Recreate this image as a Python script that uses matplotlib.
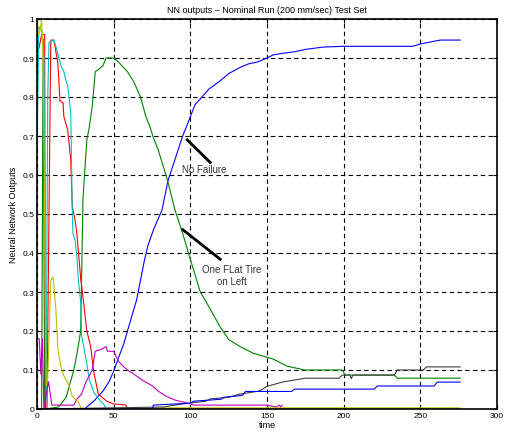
import matplotlib
matplotlib.use("Agg")
import matplotlib.pyplot as plt

plt.rcParams['font.family'] = ['Liberation Sans', 'DejaVu Sans']

# ---- data ----
blue1_x = [0, 31, 34, 37, 43, 47, 50, 53, 56.5, 59, 62, 65, 67, 70, 72.4, 76, 81.5, 85.4, 90, 95, 99.8,
           103, 107.6, 112, 119, 125, 132, 138, 144, 150, 154, 160, 168, 175, 186.5, 200, 225, 245, 250, 263, 276]
blue1_y = [0, 0, 0.01, 0.02, 0.046, 0.07, 0.097, 0.13, 0.166, 0.2, 0.24, 0.28, 0.32, 0.38, 0.42, 0.46, 0.51,
           0.585, 0.64, 0.70, 0.747, 0.78, 0.80, 0.82, 0.84, 0.86, 0.875, 0.885, 0.89, 0.90, 0.908, 0.912, 0.916,
           0.922, 0.928, 0.93, 0.93, 0.93, 0.936, 0.946, 0.946]

green_x = [0, 3, 4, 5, 14, 19, 24, 26, 28.5, 30, 32.5, 34, 36, 38, 40, 43, 45, 50, 53, 59, 63, 67.5, 71, 73.5,
           76, 79, 82.5, 85, 90, 95, 100, 106.5, 111, 119.5, 125, 132.5, 141, 154, 163, 174.5, 199, 201, 233,
           235, 276]
green_y = [0, 0, 0.95, 0, 0.005, 0.03, 0.1, 0.14, 0.2, 0.54, 0.69, 0.72, 0.775, 0.865, 0.87, 0.88, 0.9, 0.9,
           0.89, 0.865, 0.84, 0.80, 0.75, 0.725, 0.695, 0.665, 0.62, 0.588, 0.51, 0.45, 0.384, 0.30, 0.27, 0.21,
           0.178, 0.16, 0.143, 0.128, 0.11, 0.1, 0.1, 0.087, 0.087, 0.079, 0.079]

red_x = [0, 1.3, 3, 5, 5.5, 6.5, 9, 11, 13.6, 15, 17, 17.5, 20, 22, 23, 25, 26, 28.6, 29.4, 32.5, 35, 37, 40,
         45.5, 50, 58, 59, 276]
red_y = [0.92, 0.925, 0.96, 0.96, 0.0, 0.0, 0.946, 0.946, 0.887, 0.79, 0.785, 0.75, 0.716, 0.64, 0.52, 0.48,
         0.45, 0.33, 0.307, 0.2, 0.16, 0.095, 0.038, 0.02, 0.013, 0.01, 0.0, 0.0]

cyan_x = [0, 1.2, 3, 4.5, 6, 7, 7.8, 11, 12.3, 15.6, 17.5, 19, 20, 22, 23, 23.4, 25, 26, 27, 28.6, 29, 32, 34,
          37, 41.5, 43.5, 45, 276]
cyan_y = [0.66, 0.98, 0.97, 0.9, 0.02, 0.8, 0.94, 0.946, 0.93, 0.88, 0.865, 0.84, 0.83, 0.76, 0.51, 0.45,
          0.43, 0.39, 0.33, 0.27, 0.19, 0.128, 0.077, 0.043, 0.02, 0.013, 0.0, 0.0]

mag_x = [0, 1.5, 2.5, 3.5, 4.5, 7.5, 9.7, 24, 26, 29, 32, 34, 36, 38, 42, 45, 46, 50, 53, 56, 59, 63, 69.5,
         75, 79, 84, 90, 100, 102, 150, 156, 158, 159, 160]
mag_y = [0.18, 0.18, 0.09, 0.18, 0.0, 0.07, 0.01, 0.01, 0.025, 0.038, 0.07, 0.085, 0.1, 0.148, 0.153, 0.16,
         0.148, 0.148, 0.123, 0.11, 0.1, 0.09, 0.072, 0.06, 0.046, 0.033, 0.023, 0.013, 0.01, 0.01, 0.005, 0.01,
         0.005, 0.01]

yel_x = [0, 1, 2, 3, 4, 6, 7, 9, 10.5, 12.3, 13.6, 15.6, 17.5, 21, 23, 27, 29, 82, 276]
yel_y = [1.0, 0.96, 0.97, 1.0, 0.9, 0.06, 0.08, 0.33, 0.338, 0.256, 0.153, 0.11, 0.085, 0.06, 0.033, 0.018,
         0.0, 0.003, 0.003]

gray_x = [0, 82, 95, 110, 113, 125, 132, 145, 150, 160, 175, 197, 199, 204, 205, 206, 233, 235, 252, 254, 276]
gray_y = [0, 0.005, 0.013, 0.02, 0.026, 0.03, 0.038, 0.046, 0.058, 0.069, 0.079, 0.079, 0.087, 0.087, 0.078,
          0.087, 0.087, 0.1, 0.1, 0.108, 0.108]

blue2_x = [0, 75, 76, 100, 102, 120, 122, 134, 136, 166, 168, 220, 222, 259, 261, 276]
blue2_y = [0, 0, 0.01, 0.015, 0.02, 0.025, 0.03, 0.035, 0.045, 0.045, 0.051, 0.051, 0.059, 0.059, 0.069, 0.069]

series = [
    (blue1_x, blue1_y, (0, 0, 1)),
    (green_x, green_y, (0, 0.5, 0)),
    (red_x, red_y, (1, 0, 0)),
    (cyan_x, cyan_y, (0, 0.75, 0.75)),
    (mag_x, mag_y, (0.75, 0, 0.75)),
    (yel_x, yel_y, (0.75, 0.75, 0)),
    (gray_x, gray_y, (0.25, 0.25, 0.25)),
    (blue2_x, blue2_y, (0, 0, 1)),
]

x_ticks = [0, 50, 100, 150, 200, 250, 300]
y_ticks = [0, 0.1, 0.2, 0.3, 0.4, 0.5, 0.6, 0.7, 0.8, 0.9, 1.0]
y_ticklabels = ["0", "0.1", "0.2", "0.3", "0.4", "0.5", "0.6", "0.7", "0.8", "0.9", "1"]

fig = plt.figure(figsize=(5.06, 4.35), dpi=100)
ax = fig.add_axes([37/506, 25/435, 460/506, 390/435])

for xs, ys, c in series:
    ax.plot(xs, ys, color=c, lw=0.8)

ax.set_xlim(0, 300)
ax.set_ylim(0, 1)
ax.set_xticks(x_ticks)
ax.set_yticks(y_ticks)
ax.set_yticklabels(y_ticklabels)
ax.tick_params(direction='in', labelsize=6, length=3, width=0.8, pad=2, top=True, right=True)
ax.grid(True, color='black', linestyle=(0, (4, 3)), linewidth=0.8)
for s in ax.spines.values():
    s.set_linewidth(1.2)

ax.set_title("NN outputs \u2013 Nominal Run (200 mm/sec) Test Set", fontsize=6.5, pad=5)
ax.set_xlabel("time", fontsize=6.5, labelpad=1)
ax.set_ylabel("Neural Network Outputs", fontsize=6.5, labelpad=3)

ax.plot([113, 98], [0.632, 0.69], color='black', lw=2)
ax.text(94.8, 0.616, "No Failure", fontsize=7, va='center', ha='left', color='#333333')
ax.plot([119.5, 95], [0.384, 0.46], color='black', lw=2)
ax.text(127, 0.344, "One FLat Tire\non Left", fontsize=7, va='center', ha='center', color='#333333',
        linespacing=1.2)

fig.savefig("out.png", dpi=100)
